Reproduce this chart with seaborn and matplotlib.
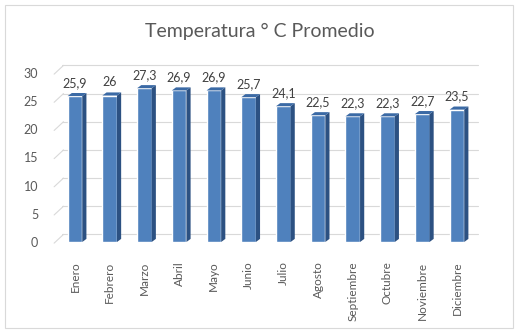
import numpy as np
import pandas as pd
import seaborn as sns
import matplotlib.pyplot as plt
from matplotlib.patches import Polygon, Rectangle

meses = ["Enero", "Febrero", "Marzo", "Abril", "Mayo", "Junio", "Julio",
         "Agosto", "Septiembre", "Octubre", "Noviembre", "Diciembre"]
temperatura = [25.9, 26, 27.3, 26.9, 26.9, 25.7, 24.1, 22.5, 22.3, 22.3, 22.7, 23.5]
etiquetas = ["25,9", "26", "27,3", "26,9", "26,9", "25,7", "24,1",
             "22,5", "22,3", "22,3", "22,7", "23,5"]

df = pd.DataFrame({"mes": meses, "temp": temperatura})

sns.set_style("white")
plt.rcParams["font.family"] = ["Lato", "DejaVu Sans"]

fig = plt.figure(figsize=(5.19, 3.32), dpi=100)
ax = fig.add_axes([57.6 / 519, (332 - 242) / 332, 416.7 / 519, 169 / 332])

# chart border
fig.patches.append(Rectangle((5 / 519, 4 / 332), 508 / 519, 323 / 332,
                             transform=fig.transFigure, fill=False,
                             edgecolor="#d9d9d9", linewidth=0.8))

# back-wall gridlines (slightly raised to fake the 3D depth)
dx, dy = 0.12, 0.3
for v in range(0, 31, 5):
    ax.plot([-0.5 + dx, 11.5 + 0.1], [v + dy * 4.5, v + dy * 4.5], color="#d9d9d9",
            linewidth=0.8, zorder=0, clip_on=False)
    ax.plot([-0.5 - 0.1, -0.5 + dx + 0.05], [v - 0.2, v + dy * 4.5], color="#d9d9d9",
            linewidth=0.8, zorder=0, clip_on=False)

sns.barplot(data=df, x="mes", y="temp", color="#4f81bd", saturation=1,
            width=0.42, ax=ax, zorder=3)

# side and top faces of each bar
for p in ax.patches:
    x0, w, h = p.get_x(), p.get_width(), p.get_height()
    depth_x, depth_y = 0.12, 0.55
    side = Polygon([(x0 + w, 0), (x0 + w + depth_x, depth_y),
                    (x0 + w + depth_x, h + depth_y), (x0 + w, h)],
                   closed=True, facecolor="#2c5182", edgecolor="none", zorder=3)
    top = Polygon([(x0, h), (x0 + depth_x, h + depth_y),
                   (x0 + w + depth_x, h + depth_y), (x0 + w, h)],
                  closed=True, facecolor="#3b6aa5", edgecolor="none", zorder=3)
    ax.add_patch(side)
    ax.add_patch(top)

for i, (v, t) in enumerate(zip(temperatura, etiquetas)):
    ax.text(i, v + 1.3, t, ha="center", va="bottom", fontsize=9, color="#404040")

ax.set_xlim(-0.5, 11.5)
ax.set_ylim(0, 30)
ax.set_yticks(range(0, 31, 5))
ax.tick_params(axis="y", labelsize=9, labelcolor="#595959", length=0, pad=14)
ax.tick_params(axis="x", labelsize=8.5, labelcolor="#595959", length=0, pad=14)
plt.setp(ax.get_xticklabels(), rotation=90)
ax.set_xlabel("")
ax.set_ylabel("")
sns.despine(ax=ax, left=True, bottom=True)

fig.text(0.5, 0.905, "Temperatura ° C Promedio", ha="center", va="center",
         fontsize=14, color="#595959")

fig.savefig("out.png", dpi=100)
